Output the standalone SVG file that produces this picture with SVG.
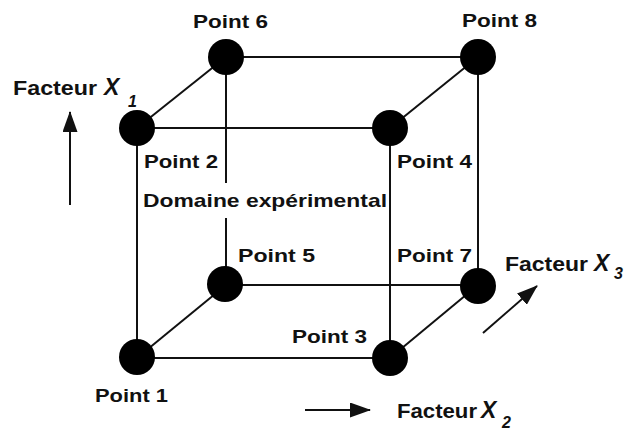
<svg xmlns="http://www.w3.org/2000/svg" width="627" height="430" viewBox="0 0 627 430">
<defs>
<style>
.e{stroke:#111;stroke-width:2;fill:none}
.n{fill:#000}
.t{font-family:"Liberation Sans",Arial,sans-serif;font-weight:bold;font-size:19px;fill:#111}
.f{font-size:20px}
.x{font-style:italic;font-weight:bold;font-size:23px}
.s{font-style:italic;font-weight:bold;font-size:16px}
</style>
<marker id="ahb" markerWidth="21" markerHeight="15" refX="20" refY="7.5" orient="auto" markerUnits="userSpaceOnUse">
<path d="M0,0 L21,7.5 L0,15 Z" fill="#111"/>
</marker>
</defs>
<rect width="627" height="430" fill="#fff"/>
<g id="connectors">
<line class="e" x1="137" y1="128" x2="390" y2="128"/>
<line class="e" x1="137" y1="358" x2="390" y2="358"/>
<line class="e" x1="137" y1="128" x2="137" y2="358"/>
<line class="e" x1="390" y1="128" x2="390" y2="358"/>
<line class="e" x1="226" y1="57" x2="478" y2="57"/>
<line class="e" x1="226" y1="285" x2="478" y2="285"/>
<line class="e" x1="226" y1="57" x2="226" y2="183"/>
<line class="e" x1="226" y1="218" x2="226" y2="285"/>
<line class="e" x1="478" y1="57" x2="478" y2="285"/>
<line class="e" x1="137" y1="128" x2="226" y2="57"/>
<line class="e" x1="390" y1="128" x2="478" y2="57"/>
<line class="e" x1="137" y1="358" x2="226" y2="285"/>
<line class="e" x1="390" y1="358" x2="478" y2="285"/>
</g>
<g id="p1"><circle class="n" cx="137" cy="357" r="18"/><text class="t" x="95" y="402" textLength="73" lengthAdjust="spacingAndGlyphs">Point 1</text></g>
<g id="p2"><circle class="n" cx="137" cy="128" r="18"/><text class="t" x="144" y="168" textLength="74" lengthAdjust="spacingAndGlyphs">Point 2</text></g>
<g id="p3"><circle class="n" cx="390" cy="358" r="18"/><text class="t" x="292" y="343" textLength="75" lengthAdjust="spacingAndGlyphs">Point 3</text></g>
<g id="p4"><circle class="n" cx="390" cy="128" r="18"/><text class="t" x="397" y="168" textLength="75" lengthAdjust="spacingAndGlyphs">Point 4</text></g>
<g id="p5"><circle class="n" cx="225" cy="284" r="18"/><text class="t" x="238" y="262" textLength="77" lengthAdjust="spacingAndGlyphs">Point 5</text></g>
<g id="p6"><circle class="n" cx="226" cy="57" r="18"/><text class="t" x="193" y="28" textLength="75" lengthAdjust="spacingAndGlyphs">Point 6</text></g>
<g id="p7"><circle class="n" cx="478" cy="286" r="18"/><text class="t" x="397" y="262" textLength="75" lengthAdjust="spacingAndGlyphs">Point 7</text></g>
<g id="p8"><circle class="n" cx="478" cy="57" r="18"/><text class="t" x="462" y="27" textLength="75" lengthAdjust="spacingAndGlyphs">Point 8</text></g>
<g id="domain"><text class="t" x="143" y="207" textLength="244" lengthAdjust="spacingAndGlyphs">Domaine expérimental</text></g>
<g id="axes">
<line class="e" x1="70" y1="205" x2="70" y2="112" marker-end="url(#ahb)"/>
<line class="e" x1="305" y1="410" x2="370" y2="410" marker-end="url(#ahb)"/>
<line class="e" x1="483" y1="333" x2="537" y2="286" marker-end="url(#ahb)"/>
<text class="t f" x="13" y="95"><tspan textLength="84" lengthAdjust="spacingAndGlyphs">Facteur</tspan><tspan class="x" x="104">X</tspan><tspan class="s" x="128" y="107">1</tspan></text>
<text class="t f" x="397" y="418"><tspan textLength="80" lengthAdjust="spacingAndGlyphs">Facteur</tspan><tspan class="x" x="481">X</tspan><tspan class="s" x="502" y="428">2</tspan></text>
<text class="t f" x="505" y="271"><tspan textLength="83" lengthAdjust="spacingAndGlyphs">Facteur</tspan><tspan class="x" x="594">X</tspan><tspan class="s" x="614" y="279">3</tspan></text>
</g>
</svg>
